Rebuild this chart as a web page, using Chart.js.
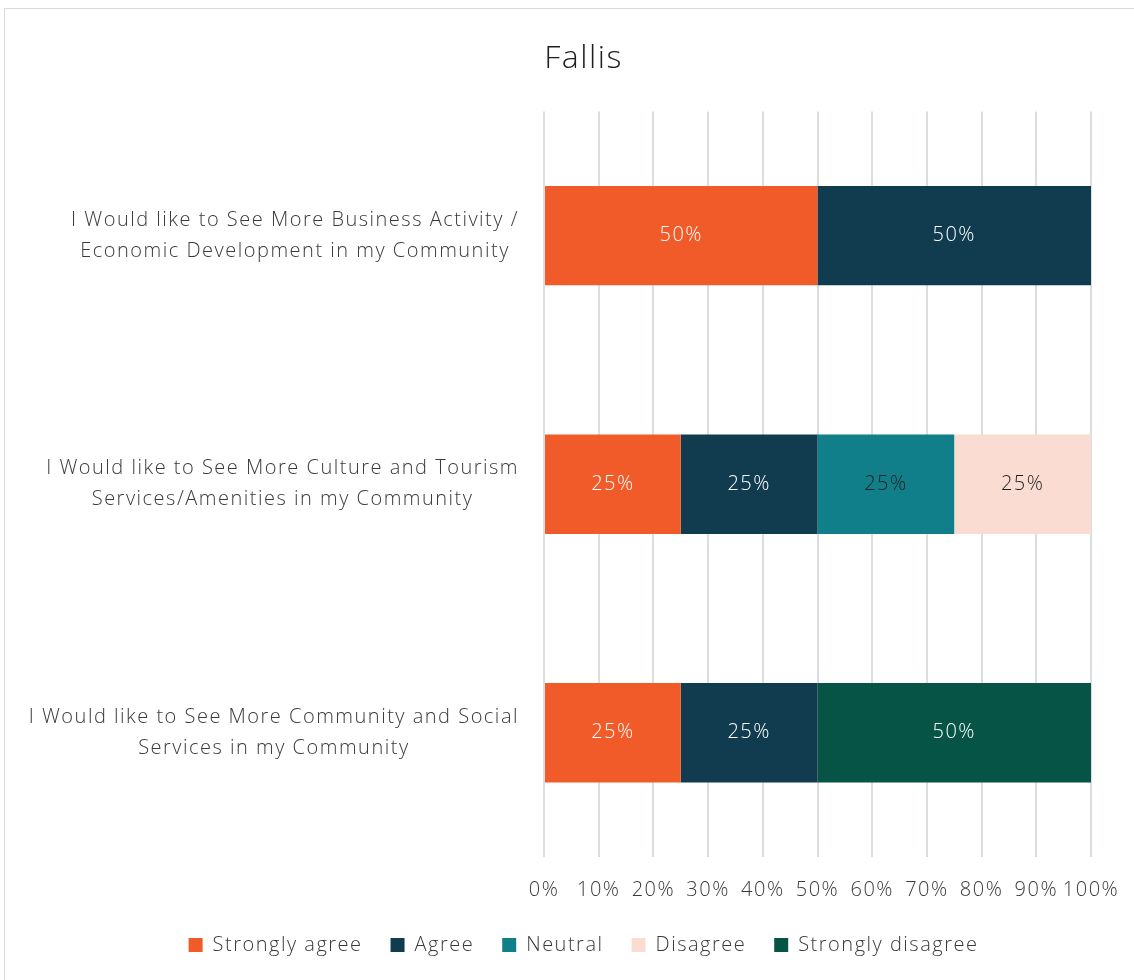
<!DOCTYPE html>
<html>
<head>
<meta charset="utf-8">
<script src="https://cdn.jsdelivr.net/npm/chart.js@4/dist/chart.umd.min.js"></script>
<style>
  html, body { margin: 0; padding: 0; background: #fff; }
  #wrap { position: relative; width: 1134px; height: 980px; overflow: hidden; }
  #frame { position: absolute; left: 4px; top: 8px; right: -10px; bottom: -10px; border: 1px solid #d9d9d9; }
  canvas { position: absolute; left: 0; top: 0; }
</style>
</head>
<body>
<div id="wrap">
  <div id="frame"></div>
  <canvas id="myChart" width="1134" height="980"></canvas>
</div>
<script>
(() => {
  'use strict'

  const FONT = '"Open Sans", "Noto Sans", sans-serif'
  const SPACING = '1.5px'

  const title = 'Fallis'
  const categories = [
    ['I Would like to See More Business Activity /', 'Economic Development in my Community'],
    ['I Would like to See More Culture and Tourism', 'Services/Amenities in my Community'],
    ['I Would like to See More Community and Social', 'Services in my Community']
  ]
  const seriesNames = ['Strongly agree', 'Agree', 'Neutral', 'Disagree', 'Strongly disagree']
  const stronglyAgree = [50, 25, 25]
  const agree = [50, 25, 25]
  const neutral = [0, 25, 0]
  const disagree = [0, 25, 0]
  const stronglyDisagree = [0, 0, 50]
  const xTicks = [0, 10, 20, 30, 40, 50, 60, 70, 80, 90, 100]

  const colors = ['#F15A29', '#113C50', '#117F89', '#FBDCD3', '#065446']
  const labelColors = ['#ffffff', '#ffffff', '#1f1f1f', '#1f1f1f', '#ffffff']
  const values = [stronglyAgree, agree, neutral, disagree, stronglyDisagree]

  const PAD_LEFT = 76 // shifts title + legend centre to the right like the original

  // the reference text is set a bit wider, so space the letters out
  const spacing = {
    id: 'spacing',
    beforeUpdate(chart) { chart.ctx.letterSpacing = SPACING },
    beforeDraw(chart) { chart.ctx.letterSpacing = SPACING }
  }

  // value labels in the middle of each segment
  const barLabels = {
    id: 'barLabels',
    afterDatasetsDraw(chart) {
      const ctx = chart.ctx
      ctx.save()
      ctx.font = '300 20px ' + FONT
      ctx.textAlign = 'center'
      ctx.textBaseline = 'middle'
      chart.data.datasets.forEach((ds, i) => {
        const meta = chart.getDatasetMeta(i)
        meta.data.forEach((el, j) => {
          const v = ds.data[j]
          if (!v) return
          ctx.fillStyle = labelColors[i]
          ctx.fillText(v + '%', (el.x + el.base) / 2, el.y)
        })
      })
      ctx.restore()
    }
  }

  // category labels: block right-aligned, lines centered inside the block
  const catLabels = {
    id: 'catLabels',
    afterDraw(chart) {
      const ctx = chart.ctx
      const y = chart.scales.y
      ctx.save()
      ctx.font = '300 20px ' + FONT
      ctx.fillStyle = '#3a3a3a'
      ctx.textAlign = 'center'
      ctx.textBaseline = 'middle'
      const right = chart.chartArea.left - 25
      const lh = 31
      categories.forEach((lines, i) => {
        const w = Math.max(...lines.map(l => ctx.measureText(l).width))
        const cx = right - w / 2
        const cy = y.getPixelForTick(i)
        lines.forEach((l, k) => {
          ctx.fillText(l, cx, cy + (k - (lines.length - 1) / 2) * lh)
        })
      })
      ctx.restore()
    }
  }

  const ctx = document.getElementById('myChart')

  const myChart = new Chart(ctx, {
    type: 'bar',
    data: {
      labels: categories,
      datasets: seriesNames.map((name, i) => ({
        label: name,
        data: values[i],
        backgroundColor: colors[i],
        borderWidth: 0,
        barPercentage: 0.5,
        categoryPercentage: 0.8
      }))
    },
    options: {
      indexAxis: 'y',
      responsive: false,
      animation: false,
      layout: { padding: { left: PAD_LEFT, right: 43, top: 0, bottom: 15 } },
      scales: {
        x: {
          stacked: true,
          min: 0,
          max: 100,
          afterBuildTicks: (scale) => { scale.ticks = xTicks.map(v => ({ value: v })) },
          afterFit: (scale) => {
            scale.height = 50
            scale.paddingLeft = 0
            scale.paddingRight = 0
          },
          border: { display: false },
          grid: { color: '#D9DFE0', lineWidth: 2, drawTicks: false },
          ticks: {
            padding: 21,
            maxRotation: 0,
            minRotation: 0,
            autoSkip: false,
            color: '#3a3a3a',
            font: { family: FONT, size: 20, weight: 300 },
            callback: (v) => v + '%'
          }
        },
        y: {
          stacked: true,
          border: { display: false },
          grid: { display: false },
          ticks: { display: false },
          afterFit: (scale) => { scale.width = 544 - PAD_LEFT }
        }
      },
      plugins: {
        title: {
          display: true,
          text: title,
          color: '#1f1f1f',
          font: { family: FONT, size: 32, weight: 300 },
          padding: { top: 40, bottom: 33 }
        },
        legend: {
          position: 'bottom',
          labels: {
            color: '#3a3a3a',
            font: { family: FONT, size: 20, weight: 300 },
            boxWidth: 14,
            boxHeight: 14,
            padding: 28
          }
        },
        tooltip: { enabled: false }
      }
    },
    plugins: [spacing, barLabels, catLabels]
  })
})()
</script>
</body>
</html>
